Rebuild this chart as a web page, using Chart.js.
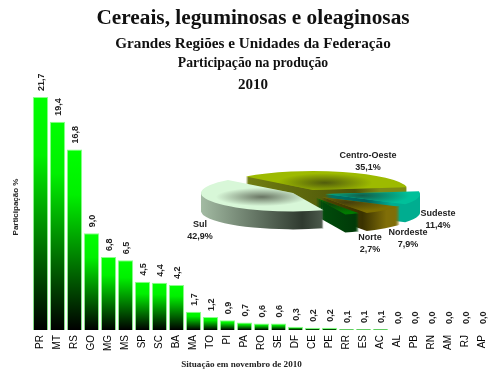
<!DOCTYPE html>
<html>
<head>
<meta charset="utf-8">
<script src="https://cdn.jsdelivr.net/npm/chart.js@4/dist/chart.umd.min.js"></script>
<style>
body { margin: 0; background: #fff; }
#wrap { position: relative; width: 497px; height: 378px; overflow: hidden; }
canvas { position: absolute; left: 0; top: 0; }
.t { position: absolute; left: 0; width: 506px; text-align: center; font-family: "Liberation Serif"; font-weight: bold; color: #111; white-space: nowrap; }
</style>
</head>
<body>
<div id="wrap">
  <canvas id="bars" width="497" height="378"></canvas>
  <canvas id="pie" width="497" height="378"></canvas>
  <div class="t" style="top:5px;font-size:21.3px;line-height:24px">Cereais, leguminosas e oleaginosas</div>
  <div class="t" style="top:34px;font-size:15.2px;line-height:17px">Grandes Regiões e Unidades da Federação</div>
  <div class="t" style="top:55px;font-size:13.7px;line-height:15px">Participação na produção</div>
  <div class="t" style="top:76px;font-size:15px;line-height:16px">2010</div>
  <div class="t" style="top:359px;width:483px;font-size:9.1px;line-height:11px;color:#222">Situação em novembro de 2010</div>
</div>
<script>
const states = ['PR','MT','RS','GO','MG','MS','SP','SC','BA','MA','TO','PI','PA','RO','SE','DF','CE','PE','RR','ES','AC','AL','PB','RN','AM','RJ','AP']
const shares = [21.7,19.4,16.8,9.0,6.8,6.5,4.5,4.4,4.2,1.7,1.2,0.9,0.7,0.6,0.6,0.3,0.2,0.2,0.1,0.1,0.1,0,0,0,0,0,0]

const regions = ['Centro-Oeste','Sudeste','Nordeste','Norte','Sul']
const regionShares = [35.1,11.4,7.9,2.7,42.9]

const sans = '"Liberation Sans"'
const comma = v => v.toFixed(1).replace('.', ',')

// rotated value above each bar, plus the y axis caption
const valueLabels = {
    id: 'valueLabels',
    afterDatasetsDraw(chart) {
        const ctx = chart.ctx
        chart.getDatasetMeta(0).data.forEach((bar, i) => {
            ctx.save()
            ctx.translate(bar.x + 3, bar.y - 6)
            ctx.rotate(-Math.PI / 2)
            ctx.font = 'bold 9px ' + sans
            ctx.fillStyle = '#222'
            ctx.fillText(comma(shares[i]), 0, 0)
            ctx.restore()
        })
        ctx.save()
        ctx.translate(16, 207)
        ctx.rotate(-Math.PI / 2)
        ctx.font = 'bold 8px ' + sans
        ctx.textAlign = 'center'
        ctx.textBaseline = 'middle'
        ctx.fillStyle = '#222'
        ctx.fillText('Participação %', 0, 0)
        ctx.restore()
    }
}

new Chart(document.getElementById('bars'), {
    type: 'bar',
    data: {
        labels: states,
        datasets: [{
            data: shares,
            barPercentage: 0.9,
            categoryPercentage: 1,
            borderWidth: 1,
            borderColor: 'rgba(90,255,90,0.7)',
            backgroundColor: c => {
                const { ctx, scales, chartArea } = c.chart
                if (!chartArea || c.dataIndex === undefined) return '#00ff00'
                const top = scales.y.getPixelForValue(shares[c.dataIndex])
                if (!Number.isFinite(top)) return '#00ff00'
                const g = ctx.createLinearGradient(0, top, 0, chartArea.bottom)
                g.addColorStop(0, '#00ff00')
                g.addColorStop(0.25, '#00f000')
                g.addColorStop(1, '#000000')
                return g
            }
        }]
    },
    options: {
        responsive: false,
        animation: false,
        events: [],
        layout: { padding: { top: 97, right: 6, left: 32 } },
        plugins: { legend: { display: false }, tooltip: { enabled: false } },
        scales: {
            x: {
                grid: { display: false },
                border: { display: false },
                afterFit: s => { s.height = 48 },
                ticks: {
                    autoSkip: false, minRotation: 90, maxRotation: 90, padding: -3,
                    color: '#000', font: { family: sans, size: 10 }
                }
            },
            y: { display: false, min: 0, max: 21.7 }
        }
    },
    plugins: [valueLabels]
})

// 3D look of the pie
const flat = 0.2
const depth = 18
const hubs = [[313,190],[325,194],[322,197],[316,198],[293,193]]
const radii = [95,95,92,88,92]
const walls = [['#7c8a14','#4a5208'],['#00ad90','#00605a'],['#806e08','#3a3200'],['#008014','#003a08'],['#a3bba3','#2f3a2f']]
const labelSpots = [[368,156],[438,214],[408,233],[370,238],[200,225]]

function slicePath(ctx, a, d) {
    ctx.beginPath()
    ctx.moveTo(a.x, a.y + d)
    ctx.arc(a.x, a.y + d, a.outerRadius, a.startAngle, a.endAngle)
    ctx.closePath()
}

const pie3d = {
    id: 'pie3d',
    afterDatasetsUpdate(chart) {
        const cy = (chart.chartArea.top + chart.chartArea.bottom) / 2
        chart.getDatasetMeta(0).data.forEach((a, i) => {
            a.x = hubs[i][0]
            a.y = cy + (hubs[i][1] - cy) / flat
            a.outerRadius = radii[i]
        })
    },
    beforeDatasetsDraw(chart) {
        const ctx = chart.ctx
        const cy = (chart.chartArea.top + chart.chartArea.bottom) / 2
        ctx.save()
        ctx.translate(0, cy)
        ctx.scale(1, flat)
        ctx.translate(0, -cy)
        chart.getDatasetMeta(0).data.forEach((a, i) => {
            const g = ctx.createLinearGradient(a.x - a.outerRadius, 0, a.x + a.outerRadius, 0)
            g.addColorStop(0, walls[i][0])
            g.addColorStop(i == 4 ? 0.55 : 0.72, walls[i][1])
            g.addColorStop(i == 4 ? 1 : 0.85, walls[i][0])
            ctx.fillStyle = g
            for (let d = depth; d > 0; d--) {
                slicePath(ctx, a, d / flat)
                ctx.fill()
            }
        })
    },
    afterDatasetsDraw(chart) {
        const ctx = chart.ctx
        chart.getDatasetMeta(0).data.forEach(a => {
            const mid = (a.startAngle + a.endAngle) / 2
            const mx = a.x + Math.cos(mid) * a.outerRadius * 0.4
            const my = a.y + Math.sin(mid) * a.outerRadius * 0.4
            const g = ctx.createRadialGradient(mx, my, 0, mx, my, a.outerRadius * 0.5)
            g.addColorStop(0, 'rgba(30,30,20,0.6)')
            g.addColorStop(1, 'rgba(30,30,20,0)')
            ctx.save()
            slicePath(ctx, a, 0)
            ctx.clip()
            ctx.fillStyle = g
            ctx.fill()
            ctx.restore()
        })
        ctx.restore()

        ctx.font = 'bold 9px ' + sans
        ctx.textAlign = 'center'
        ctx.textBaseline = 'middle'
        ctx.fillStyle = '#222'
        regions.forEach((r, i) => {
            ctx.fillText(r, labelSpots[i][0], labelSpots[i][1])
            ctx.fillText(comma(regionShares[i]) + '%', labelSpots[i][0], labelSpots[i][1] + 11.5)
        })
    }
}

new Chart(document.getElementById('pie'), {
    type: 'pie',
    data: {
        labels: regions,
        datasets: [{
            data: regionShares,
            backgroundColor: ['#9dba00','#00c09a','#7d6e00','#007a00','#d8f7d8'],
            borderWidth: 0
        }]
    },
    options: {
        responsive: false,
        animation: false,
        events: [],
        rotation: 315,
        layout: { padding: { left: 220, right: 77, top: 95, bottom: 83 } },
        plugins: { legend: { display: false }, tooltip: { enabled: false } }
    },
    plugins: [pie3d]
})
</script>
</body>
</html>
